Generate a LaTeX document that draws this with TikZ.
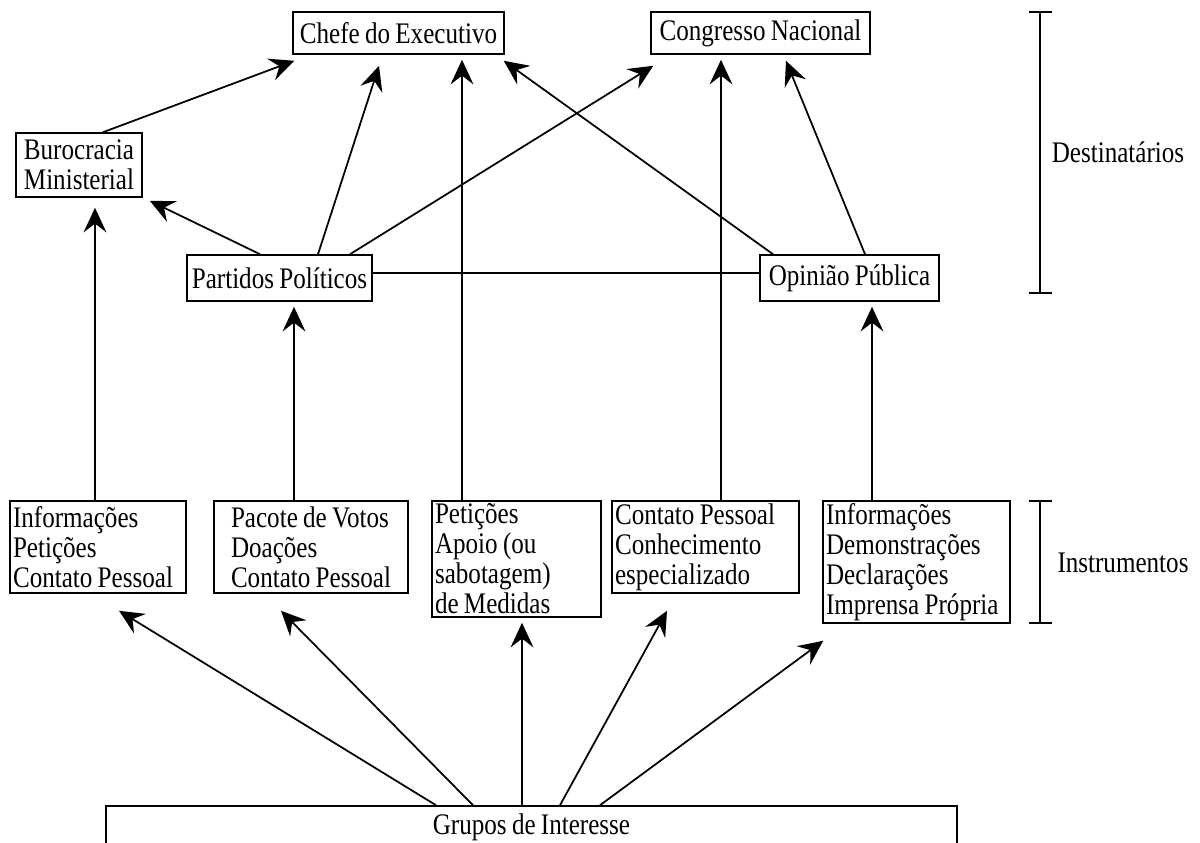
\documentclass[tikz,border=0pt]{standalone}
\usepackage{fontspec}
\setmainfont{Liberation Serif}[FakeStretch=0.84,WordSpace=0.84]
\usetikzlibrary{calc}
\usetikzlibrary{arrows.meta}

\tikzset{
  box/.style={draw,line width=0.9pt,inner xsep=0.06cm,inner ysep=0pt,
    font=\fontsize{17}{17.1}\selectfont},
  instr/.style={box,align=flush left,text width=#1},
  arr/.style={line width=1pt,-{Stealth[length=14pt,width=13pt,inset=5pt]}}
}

\begin{document}
\begin{tikzpicture} [x=0.02cm,y=-0.02cm]

\useasboundingbox (0,0) rectangle (1200,842);
\clip (0,0) rectangle (1200,842);

\node[box,minimum width=4.22cm,minimum height=0.84cm] (chefe) at (398.5,33) {Chefe do Executivo};
\node[box,minimum width=4.38cm,minimum height=0.84cm] (congresso) at (760.5,33) {Congresso Nacional};
\node[box,align=flush left,minimum width=2.52cm,minimum height=1.28cm] (buro) at (79,165) {Burocracia\\Ministerial};
\node[box,minimum width=3.7cm,minimum height=0.92cm] (partidos) at (279.5,278) {Partidos Políticos};
\node[box,minimum width=3.58cm,minimum height=0.92cm] (opiniao) at (849.5,278) {Opinião Pública};

\node[instr=3.4cm,minimum height=1.84cm] (info1) at (98,547) {Informações\\Petições\\Contato Pessoal};
\node[box,align=flush left,minimum width=3.88cm,minimum height=1.84cm] (pacote) at (311,547) {Pacote de Votos\\Doações\\Contato Pessoal};
\node[instr=3.26cm,minimum height=2.32cm] (peticoes) at (516.5,559) {Petições\\Apoio (ou\\sabotagem)\\de Medidas};
\node[instr=3.62cm,minimum height=1.84cm] (contato) at (705.5,547) {Contato Pessoal\\Conhecimento\\especializado};
\node[instr=3.62cm,minimum height=2.44cm] (info2) at (916.5,562) {Informações\\Demonstrações\\Declarações\\Imprensa Própria};

\node[box,minimum width=17.02cm,minimum height=0.84cm] (grupos) at (531.5,827) {Grupos de Interesse};

\node[font=\fontsize{17}{17.1}\selectfont] (dest) at (1118,152) {Destinatários};
\node[font=\fontsize{17}{17.1}\selectfont] (instrum) at (1123,563) {Instrumentos};

\draw[line width=0.8pt] (1040,12) -- (1040,293);
\draw[line width=0.8pt] (1029,12) -- (1052,12);
\draw[line width=0.8pt] (1029,293) -- (1052,293);
\draw[line width=0.8pt] (1040,501) -- (1040,623);
\draw[line width=0.8pt] (1029,501) -- (1052,501);
\draw[line width=0.8pt] (1029,623) -- (1052,623);

\draw[arr] ($(buro.north)+(24,0)$) -- ($(chefe.south west)+(2,6)$);
\draw[arr] ($(partidos.north)+(38.5,0)$) -- ($(chefe.south)+(-19.5,11)$);
\draw[arr] ($(peticoes.north)+(-54.5,0)$) -- ($(chefe.south)+(63.5,5)$);
\draw[arr] ($(opiniao.north)+(-76.5,0)$) -- ($(chefe.south east)+(-1,6)$);
\draw[arr] ($(partidos.north)+(-19.5,0)$) -- ($(buro.south east)+(7,3)$);
\draw[arr] ($(info1.north)+(-3,0)$) -- ($(buro.south)+(16,10)$);
\draw[arr] ($(partidos.north)+(70.5,0)$) -- ($(congresso.south west)+(3,11)$);
\draw[arr] ($(contato.north)+(15.5,0)$) -- ($(congresso.south)+(-39.5,5)$);
\draw[arr] ($(opiniao.north)+(15.5,0)$) -- ($(congresso.south)+(25.5,6)$);
\draw[line width=0.9pt] ($(partidos.east)+(0,-5)$) -- ($(opiniao.west)+(0,-5)$);
\draw[arr] ($(pacote.north)+(-17,0)$) -- ($(partidos.south)+(14.5,5)$);
\draw[arr] ($(info2.north)+(-44.5,0)$) -- ($(opiniao.south)+(22.5,5)$);

\draw[arr] ($(grupos.north)+(-95.5,0)$) -- ($(info1.south)+(21,17)$);
\draw[arr] ($(grupos.north)+(-58.5,0)$) -- ($(pacote.south)+(-30,17)$);
\draw[arr] ($(grupos.north)+(-9.5,0)$) -- ($(peticoes.south)+(5.5,5)$);
\draw[arr] ($(grupos.north)+(28.5,0)$) -- ($(contato.south)+(-38.5,17)$);
\draw[arr] ($(grupos.north)+(68.5,0)$) -- ($(info2.south west)+(1,17)$);

\end{tikzpicture}
\end{document}
